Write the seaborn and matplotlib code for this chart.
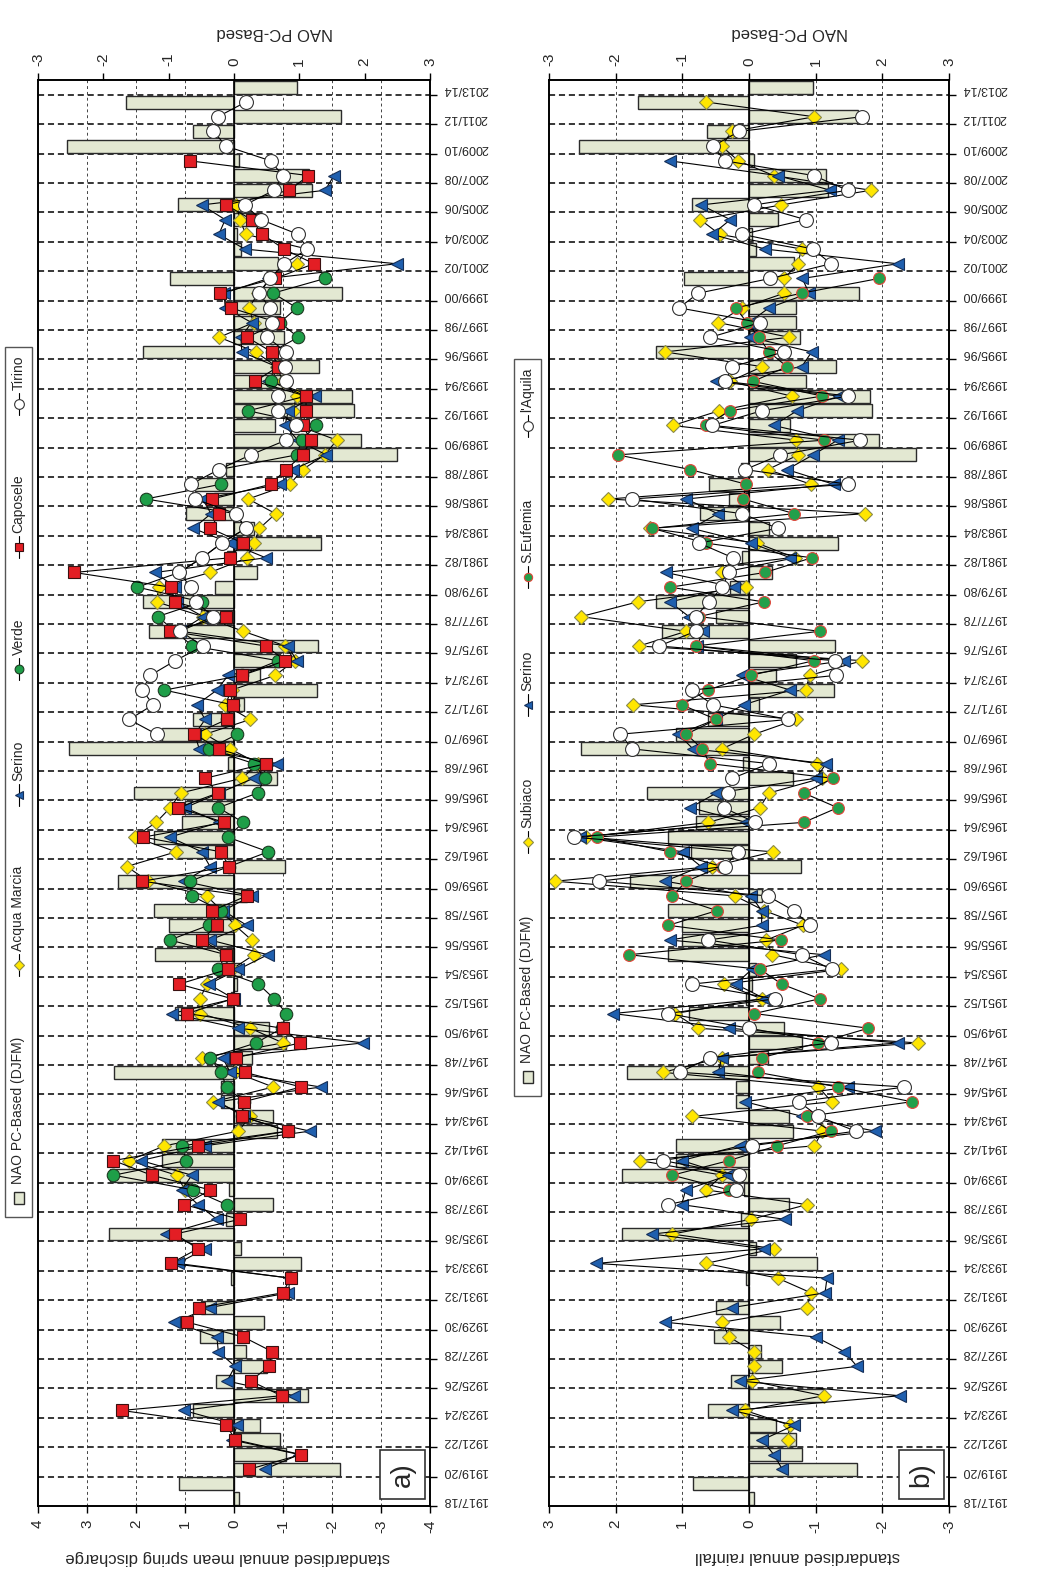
import numpy as np
import pandas as pd
import matplotlib
matplotlib.use('Agg')
import matplotlib.pyplot as plt
import seaborn as sns
from matplotlib.patches import Rectangle

# index 0 = 1917/18 ... 96 = 2013/14
years = [f"{y}/{(y + 1) % 100:02d}" for y in range(1917, 2014)]

# NAO PC-based (DJFM) bars, same in both panels
nao = [0.08, -0.84, 1.62, 0.8, 0.7, 0.4, -0.62, 1.13, -0.27, 0.5,
       0.18, -0.52, 0.46, -0.5, 0.0, -0.05, 1.02, 0.1, -1.91, -0.12,
       0.6, -0.08, -1.9, -1.1, -1.1, 0.66, 0.6, -0.2, -0.2, -1.83,
       0.28, 0.8, 0.53, -0.9, -0.05, 0.05, 0.1, -1.21, -1.0, -1.0,
       -1.22, 0.2, -1.78, 0.78, -0.87, -1.22, -0.8, -0.75, -1.53, 0.66,
       -0.09, -2.52, -1.1, -0.62, 0.15, 1.27, 0.4, 0.7, 1.29, -1.3,
       -0.5, -1.4, -0.29, 0.35, -0.1, 1.33, 0.3, -0.74, -0.3, -0.6,
       -0.12, 2.5, 1.95, 0.62, 1.84, 1.81, 0.85, 1.3, -1.4, 0.76,
       0.7, 0.7, 1.65, -0.98, 0.67, 0.1, 0.05, 0.43, -0.85, 1.19,
       1.15, 0.07, -2.55, -0.63, 1.64, -1.66, 0.96]

# panel a: standardised spring discharge
acqua_marcia_start = 21
acqua_marcia = [1.0, 1.17, 2.14, 1.42, -0.09, -0.33, 0.42, -0.8, -0.02, 0.66,
                -1.0, -0.33, 0.69, 0.69, 0.56, 0.05, -0.41, -0.36, -0.02, 0.25,
                0.56, 1.75, 2.19, 1.18, 2.03, 1.59, 1.3, 1.09, -0.16, -0.5,
                0.08, 0.59, -0.33, 0.18, 0.05, -0.84, -1.24, -1.05, -0.19, 0.63,
                1.58, 1.54, 0.49, -0.27, -0.41, -0.52, -0.85, -0.29, -1.14, -1.4,
                -1.85, -2.1, -1.3, -1.2, -1.28, -1.0, -0.87, -0.44, 0.3, -0.4,
                -0.3, -0.5, -0.75, -1.28, -1.5, -0.24, -0.12, -0.05]

serino_a_start = 2
serino_a = [-0.63, -1.33, 0.05, -0.07, 1.03, -1.23, 0.14, -0.02, 0.32, 0.35,
            1.22, 0.49, -1.11, -1.14, 1.15, 0.59, 1.39, 0.35, 0.73, 1.07,
            0.86, 1.9, 0.6, -1.55, -0.2, 0.32, -1.77, 0.08, 0.23, -2.64,
            -0.09, 1.27, 0.0, 0.52, -0.09, -0.69, 0.49, -0.26, 0.22, -0.36,
            1.03, 0.49, 0.66, 1.31, 0.3, 1.0, 0.3, -0.4, -0.88, 0.71,
            0.8, 0.59, 0.76, 0.35, 0.12, -1.28, -1.1, 1.1, 0.63, 1.17,
            1.2, 1.61, -0.65, 0.08, 0.83, 0.47, 0.64, -0.94, -1.2, -1.88,
            -1.3, -1.04, -1.11, -1.65, -0.7, -0.87, -0.16, -0.14, -0.36, 0.18,
            0.2, -0.7, -3.32, -0.22, 0.31, 0.18, 0.66, -1.86, -2.04]

verde_start = 20
verde = [0.15, 0.83, 2.46, 0.97, 1.07, -1.1, -0.16, -0.2, 0.15, 0.27,
         0.49, -0.45, -0.98, -1.07, -0.82, -0.5, 0.33, 0.16, 1.31, 0.52,
         0.27, 0.86, 0.9, 0.1, -0.7, 0.13, -0.19, 0.32, -0.48, -0.63,
         -0.41, 0.52, -0.07, 0.15, 0.03, 1.42, -0.16, -0.9, 0.85, 1.2,
         1.56, 0.66, 1.97, 1.12, 0.65, 0.25, -0.24, -0.04, 1.8, 0.27,
         0.31, -1.28, -1.38, -1.67, -0.29, -1.47, -0.75, -0.9, -0.77, -1.31,
         -0.94, -1.28, -0.8, -1.86]

caposele_start = 2
caposele = [-0.31, -1.37, -0.03, 0.16, 2.29, -0.97, -0.34, -0.71, -0.78, -0.19,
            0.95, 0.71, -0.99, -1.16, 1.29, 0.74, 1.2, -0.12, 1.02, 0.48,
            1.68, 2.46, 0.74, -1.11, -0.16, -0.2, -1.37, -0.22, -0.05, -1.35,
            -0.99, 0.95, 0.03, 1.12, 0.13, 0.16, 0.66, 0.35, 0.44, -0.26,
            1.87, 0.1, 0.27, 1.85, 0.2, 1.14, 0.33, 0.59, -0.65, 0.31,
            0.81, 0.15, 0.03, 0.08, -0.16, -1.05, -0.65, 1.31, 0.16, 1.2,
            1.29, 3.26, 0.08, -0.18, 0.48, 0.3, 0.44, -0.75, -1.06, -1.4,
            -1.57, -1.4, -1.47, -1.47, -0.43, -0.9, -0.77, -0.27, -0.9, 0.07,
            0.29, -0.84, -1.63, -1.02, -0.58, -0.36, 0.16, -1.13, -1.52, 0.9]

tirino_start = 52
tirino = [1.58, 2.14, 1.65, 1.87, 1.71, 1.2, 0.63, 1.1, 0.42, 0.78,
          0.88, 1.12, 0.65, 0.25, -0.24, -0.04, 0.8, 0.88, 0.31, -0.34,
          -1.06, -1.26, -0.9, -0.9, -1.07, -1.05, -1.06, -0.68, -0.77, -0.73,
          -0.51, -0.73, -1.03, -1.5, -1.31, -0.55, -0.22, -0.82, -0.99, -0.75,
          0.16, 0.42, 0.33, -0.24]

# panel b: standardised annual rainfall
subiaco_start = 4
subiaco = [-0.58, -0.61, 0.06, -1.12, -0.04, -0.07, -0.07, 0.3, 0.4, -0.87,
           -0.93, -0.43, 0.65, -0.38, 1.15, -0.03, -0.87, 0.64, 0.4, 1.64,
           -0.98, -1.1, 0.85, -1.24, -1.04, 1.29, 0.41, -2.53, 0.77, 1.11,
           -0.19, 0.37, -1.38, -0.35, -0.26, -0.81, -0.23, 0.21, 2.91, 0.55,
           -0.36, 2.45, 0.61, -0.16, -0.3, -1.09, -1.02, 0.41, -0.08, -0.71,
           1.74, -0.85, -0.91, -1.7, 1.65, 0.94, 2.52, 1.67, 0.04, 0.4,
           -0.69, -0.12, 1.49, -1.74, 2.11, -0.93, -0.28, -0.74, -0.71, 1.14,
           0.45, -0.64, 0.29, -0.2, 1.26, -0.6, 0.46, 0.11, -0.53, -0.53,
           -0.73, -0.79, 0.44, 0.73, -0.48, -1.83, -0.37, 0.16, 0.41, 0.26,
           -0.98, 0.64]

serino_b_start = 2
serino_b = [-0.5, -0.37, -0.2, -0.68, 0.25, -2.26, 0.14, -1.62, -1.43, -1.0,
            1.26, 0.25, -1.14, -1.17, 2.29, -0.22, 1.45, -0.54, 1.01, 0.95,
            0.31, 1.01, 0.14, -1.89, -0.8, 0.06, -1.49, 0.46, 0.41, -2.23,
            0.3, 2.04, -0.24, 0.2, -0.04, -1.12, 1.19, -0.19, -0.19, -0.03,
            1.26, 0.72, 0.99, 2.54, 0.04, 0.88, 0.49, -1.0, -1.16, 0.84,
            1.06, 0.5, 0.08, -0.62, 0.11, -1.42, 0.78, 0.69, 0.9, 1.19,
            0.22, 1.25, -0.62, -0.03, 0.86, 0.47, 0.94, -1.27, -0.57, -0.96,
            -1.33, -0.37, -0.72, -1.35, 0.5, -0.79, -0.94, -0.02, 0.0, -0.3,
            -0.9, -0.8, -2.23, -0.24, 0.55, 0.28, 0.72, -1.22, -0.43, 1.19]

s_eufemia_start = 21
s_eufemia = [0.3, 1.15, 0.3, -0.42, -1.23, -0.87, -2.44, -1.34, -0.13, -0.19,
             -1.04, -1.79, -0.08, -1.06, -0.49, -0.17, 1.8, -0.48, 1.21, 0.48,
             1.15, 0.94, 0.41, 1.18, 2.28, -0.82, -1.33, -0.82, -1.26, 0.59,
             0.7, 0.94, 0.49, 1.01, 0.62, -0.03, -0.97, 0.8, -1.06, 0.75,
             -0.22, 1.18, -0.24, -0.94, 0.65, 1.45, -0.68, 0.09, 0.04, 0.88,
             1.97, -1.13, 0.64, 0.29, -1.1, -0.06, -0.57, -0.3, -0.15, 0.03,
             0.2, -0.79, -1.95]

l_aquila_start = 20
l_aquila = [1.22, 0.19, 0.15, 1.29, -0.04, -1.6, -1.04, -0.75, -2.33, 1.04,
            0.58, -1.23, 0.0, 1.22, -0.39, 0.86, -1.24, -0.79, 0.61, -0.92,
            -0.67, -0.28, 2.25, 0.36, 0.17, 2.62, -0.09, 0.38, 0.32, 0.25,
            -0.3, 1.75, 1.93, -0.59, 0.54, 0.86, -1.3, -1.29, 1.35, 0.8,
            0.8, 0.6, 0.4, 0.3, 0.24, 0.75, -0.43, 0.1, 1.76, -1.49,
            0.06, -0.47, -1.67, 0.55, -0.19, -1.49, 0.36, 0.25, -0.52, 0.58,
            -0.17, 1.05, 0.76, -0.32, -1.23, -0.96, 0.1, -0.85, -0.08, -1.48,
            -0.97, 0.36, 0.54, 0.15, -1.69]

YELLOW = dict(marker='D', ms=7, markerfacecolor='#FFE600', markeredgecolor='#8a8a4a')
BLUE = dict(marker='<', ms=9, markerfacecolor='#1F5FAE', markeredgecolor='#152f58')
GREEN = dict(marker='o', ms=9, markerfacecolor='#1E9E48', markeredgecolor='#1d3b22')
RED = dict(marker='s', ms=9, markerfacecolor='#E31E24', markeredgecolor='#3a1010')
WHITE = dict(marker='o', ms=10, markerfacecolor='white', markeredgecolor='#333333')
GREEN_RED = dict(marker='o', ms=8.5, markerfacecolor='#23A04B', markeredgecolor='#E0453A')

BAR_FACE = '#E3E8D2'

series_a = [('Acqua Marcia', acqua_marcia_start, acqua_marcia, YELLOW),
            ('Serino', serino_a_start, serino_a, BLUE),
            ('Verde', verde_start, verde, GREEN),
            ('Caposele', caposele_start, caposele, RED),
            ('Tirino', tirino_start, tirino, WHITE)]
series_b = [('Subiaco', subiaco_start, subiaco, YELLOW),
            ('Serino', serino_b_start, serino_b, BLUE),
            ('S.Eufemia', s_eufemia_start, s_eufemia, GREEN_RED),
            ("l'Aquila", l_aquila_start, l_aquila, WHITE)]

sns.set_theme(style='white')
plt.rcParams['font.family'] = ['Liberation Sans', 'DejaVu Sans']
plt.rcParams['axes.unicode_minus'] = False

W, H = 1043, 1573
fig = plt.figure(figsize=(W / 100, H / 100), dpi=100)

idx = np.arange(len(years))
bars_df = pd.DataFrame({'idx': idx, 'nao': nao})


def panel(left_px, width_px, series, vmax, grid_vals, to_nao):
    rect = [left_px / W, 1 - 1506 / H, width_px / W, 1426 / H]
    ax = fig.add_axes(rect)
    # grid behind bars
    for g in grid_vals:
        ax.axvline(to_nao(g), color='#444444', lw=0.7, ls=(0, (3, 3)), zorder=0)
    for k in range(2, 97, 2):
        ax.axhline(k - 0.5, color='black', lw=1.1, ls=(0, (4, 2.5)), zorder=1)
    sns.barplot(data=bars_df, x='nao', y='idx', orient='y', native_scale=True,
                color=BAR_FACE, saturation=1, edgecolor='#2b2b2b', linewidth=1,
                width=0.88, errorbar=None, ax=ax, zorder=2)
    ax.axvline(0, color='black', lw=1.2, zorder=3)
    ax.set_xlim(-3, 3)
    ax.set_ylim(-0.5, 96.5)
    ax.set_xlabel('')
    ax.set_ylabel('')

    tw = ax.twiny()
    for name, start, vals, st in series:
        sns.lineplot(x=vals, y=np.arange(start, start + len(vals)), orient='y',
                     sort=True, errorbar=None, color='black', lw=0.8,
                     markeredgewidth=0.8, ax=tw, **st)
    tw.set_xlim(vmax, -vmax)
    tw.set_ylim(-0.5, 96.5)
    tw.set_xlabel('')
    tw.set_ylabel('')

    ax.xaxis.tick_top()
    ax.set_xticks(range(-3, 4))
    ax.tick_params(axis='x', which='major', top=True, bottom=False, labeltop=True,
                   labelbottom=False, labelrotation=90, length=5, width=1,
                   direction='out', labelsize=11, pad=5, color='black')
    tw.xaxis.tick_bottom()
    tw.set_xticks(range(-vmax, vmax + 1))
    tw.tick_params(axis='x', which='major', bottom=True, top=False, labelbottom=True,
                   labeltop=False, labelrotation=90, length=5, width=1,
                   direction='out', labelsize=11, pad=5, color='black')

    ax.yaxis.tick_right()
    ax.set_yticks(range(0, 97, 2))
    ax.set_yticklabels(years[::2], rotation=180, fontsize=9)
    ax.set_yticks([k - 0.5 for k in range(0, 98, 2)], minor=True)
    ax.tick_params(axis='y', which='major', length=0, pad=9, right=True, left=False)
    ax.tick_params(axis='y', which='minor', length=5, width=1, right=True, left=False,
                   direction='out', color='black')
    for a in (ax, tw):
        for sp in a.spines.values():
            sp.set_color('black')
            sp.set_linewidth(1.2)
    return ax, tw


panel(38, 392, series_a, 4, [-3, -2, -1, 1, 2, 3], lambda d: -0.75 * d)
panel(549, 400, series_b, 3, [-2, -1, 1, 2], lambda r: -r)

# overlay in image pixel coordinates for titles, legends and panel tags
ov = fig.add_axes([0, 0, 1, 1])
ov.set_xlim(0, W)
ov.set_ylim(H, 0)
ov.axis('off')

ov.text(275, 33, 'NAO PC-Based', rotation=180, fontsize=12, ha='center', va='center')
ov.text(790, 33, 'NAO PC-Based', rotation=180, fontsize=12, ha='center', va='center')
ov.text(228, 1557, 'standardised annual mean spring discharge', rotation=180,
        fontsize=12, ha='center', va='center')
ov.text(797, 1557, 'standardised annual rainfall', rotation=180,
        fontsize=12, ha='center', va='center')

for x0, lab in [(380, 'a)'), (899, 'b)')]:
    ov.add_patch(Rectangle((x0, 1450), 45, 49, fc='white', ec='#333333', lw=1.2, zorder=5))
    ov.text(x0 + 22.5, 1474.5, lab, rotation=90, fontsize=20, ha='center', va='center', zorder=6)


def legend(x0, x1, ytop, ybot, items):
    ov.add_patch(Rectangle((x0, ytop), x1 - x0, ybot - ytop, fill=False,
                           ec='#555555', lw=1))
    xc = (x0 + x1) / 2
    texts = [ov.text(xc, 0, lab, rotation=90, fontsize=10, ha='center', va='center')
             for lab, _ in items]
    fig.canvas.draw()
    r = fig.canvas.get_renderer()
    lens = [t.get_window_extent(r).height for t in texts]
    hl, hg, margin = 22, 3, 8
    content = sum(lens) + len(items) * (hl + hg)
    gap = ((ybot - ytop) - 2 * margin - content) / (len(items) - 1)
    y = ybot - margin
    for (lab, st), t, ln in zip(items, texts, lens):
        if st is None:
            ov.add_patch(Rectangle((xc - 5, y - hl / 2 - 6), 10, 12, fc=BAR_FACE,
                                   ec='#2b2b2b', lw=1))
        else:
            ov.plot([xc, xc], [y, y - hl], color='black', lw=0.8)
            s = dict(st)
            s['ms'] = s['ms'] * 0.7
            ov.plot([xc], [y - hl / 2], markeredgewidth=0.8, **s)
        t.set_position((xc, y - hl - hg - ln / 2))
        y = y - hl - hg - ln - gap


legend(5, 32, 347, 1217, [('NAO PC-Based (DJFM)', None)] +
       [(n, st) for n, _, _, st in series_a])
legend(514, 541, 359, 1096, [('NAO PC-Based (DJFM)', None)] +
       [(n, st) for n, _, _, st in series_b])

fig.savefig('out.png', dpi=100)
